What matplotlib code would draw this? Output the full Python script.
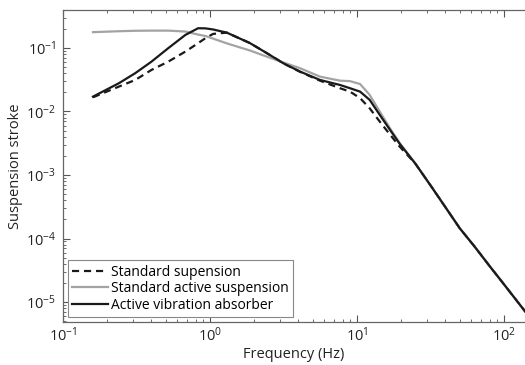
import matplotlib
matplotlib.use("Agg")
import matplotlib.pyplot as plt
from matplotlib.ticker import LogLocator, NullFormatter

plt.rcParams['font.family'] = ['Open Sans', 'DejaVu Sans']

freq = [0.16, 0.24, 0.31, 0.40, 0.52, 0.68, 0.83, 0.93, 1.05, 1.3, 1.87, 2.43,
        3.15, 4.1, 5.6, 7.66, 8.96, 10.5, 12.2, 14.3, 16.8, 19.5, 25, 32, 40,
        50, 63, 80, 100, 140]

standard = [0.0167, 0.0246, 0.0313, 0.045, 0.0608, 0.0875, 0.1186, 0.142, 0.166,
            0.174, 0.119, 0.083, 0.0574, 0.042, 0.0305, 0.0232, 0.0205, 0.0162,
            0.0112, 0.0069, 0.0043, 0.0028, 1.5e-3, 6.6e-4, 3.1e-4, 1.45e-4,
            7.5e-5, 3.66e-5, 1.9e-5, 7.0e-6]

active = [0.177, 0.183, 0.186, 0.187, 0.187, 0.181, 0.162, 0.154, 0.14, 0.118,
          0.091, 0.073, 0.059, 0.0479, 0.0353, 0.0305, 0.030, 0.027, 0.0182,
          0.0099, 0.0054, 0.0032, 1.5e-3, 6.6e-4, 3.1e-4, 1.45e-4, 7.5e-5,
          3.66e-5, 1.9e-5, 7.0e-6]

absorber = [0.0171, 0.0278, 0.040, 0.0608, 0.099, 0.160, 0.204, 0.203, 0.195,
            0.174, 0.119, 0.083, 0.0574, 0.0424, 0.0313, 0.0261, 0.0232, 0.0205,
            0.0152, 0.0088, 0.0051, 0.0031, 1.5e-3, 6.6e-4, 3.1e-4, 1.45e-4,
            7.5e-5, 3.66e-5, 1.9e-5, 7.0e-6]

labels = ["Standard supension", "Standard active suspension", "Active vibration absorber"]

fig = plt.figure(figsize=(5.25, 3.65), dpi=100)
ax = fig.add_axes([0.12, 0.1178, 0.88, 0.855])

ax.plot(freq, standard, color='#1a1a1a', lw=1.6, ls=(0, (3.2, 2.2)), label=labels[0])
ax.plot(freq, active, color='#a3a3a3', lw=1.6, label=labels[1])
ax.plot(freq, absorber, color='#1a1a1a', lw=1.6, label=labels[2])

ax.set_xscale('log')
ax.set_yscale('log')
ax.set_xlim(0.1, 139)
ax.set_ylim(4.85e-6, 0.396)

ax.xaxis.set_major_locator(LogLocator(base=10, numticks=10))
ax.xaxis.set_minor_locator(LogLocator(base=10, subs=range(2, 10), numticks=20))
ax.xaxis.set_minor_formatter(NullFormatter())
ax.yaxis.set_major_locator(LogLocator(base=10, numticks=10))
ax.yaxis.set_minor_locator(LogLocator(base=10, subs=range(2, 10), numticks=20))
ax.yaxis.set_minor_formatter(NullFormatter())

ax.tick_params(which='both', direction='in', top=True, right=False,
               colors='#555555', labelcolor='#222222', labelsize=10.5)
ax.tick_params(which='major', length=5, width=0.8)
ax.tick_params(axis='x', which='major', pad=3.5)
ax.tick_params(axis='y', which='major', pad=5)
ax.tick_params(which='minor', length=2.5, width=0.6)
for s in ['left', 'bottom', 'top']:
    ax.spines[s].set_color('#666666')
    ax.spines[s].set_linewidth(0.9)
ax.spines['right'].set_visible(False)

ax.set_xlabel('Frequency (Hz)', fontsize=10.5, color='#222222', labelpad=1)
ax.set_ylabel('Suspension stroke', fontsize=10.5, color='#222222', labelpad=2)

leg = ax.legend(loc='lower left', fontsize=10, frameon=True, fancybox=False,
                edgecolor='#888888', framealpha=1, borderpad=0.3,
                labelspacing=0.12, handlelength=2.6, handletextpad=0.2,
                borderaxespad=0.35)
leg.get_frame().set_linewidth(0.8)

fig.savefig('out.png', dpi=100)
